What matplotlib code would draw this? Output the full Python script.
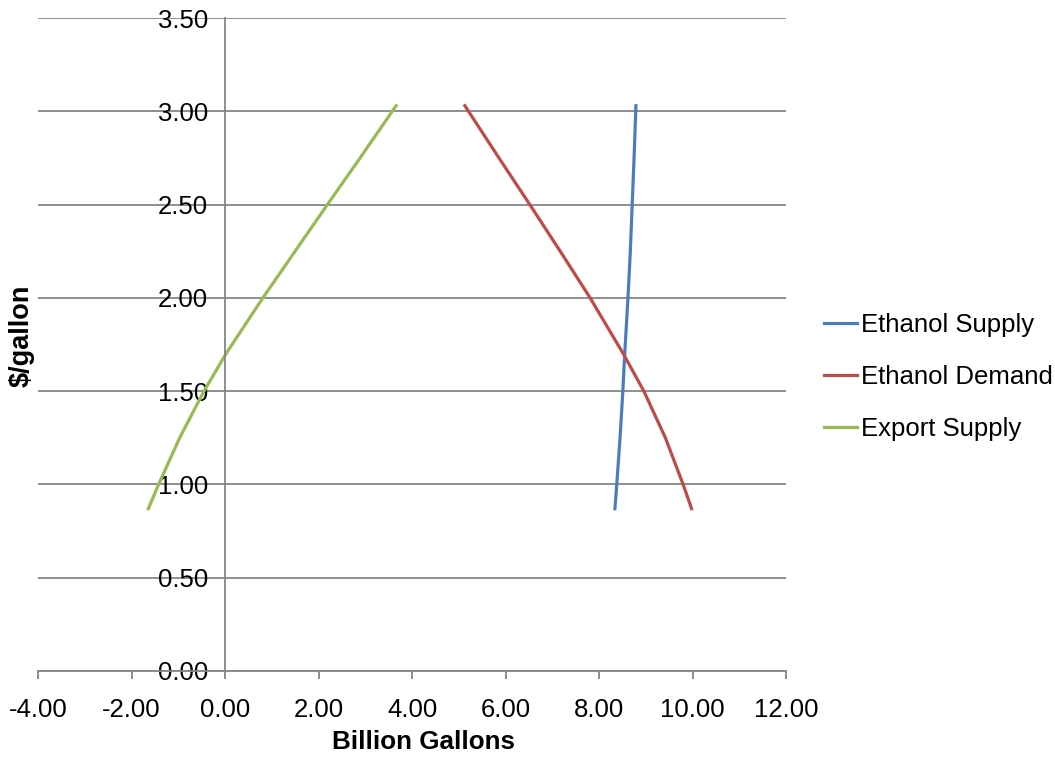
import matplotlib.pyplot as plt

plt.rcParams['font.family'] = ['Liberation Sans', 'DejaVu Sans']

price = [0.87, 1.00, 1.25, 1.50, 1.70, 2.00, 2.25, 2.50, 2.75, 3.03]
ethanol_supply = [8.34, 8.38, 8.45, 8.51, 8.55, 8.62, 8.67, 8.71, 8.75, 8.79]
ethanol_demand = [9.98, 9.80, 9.42, 8.96, 8.52, 7.81, 7.17, 6.52, 5.86, 5.13]
export_supply = [-1.64, -1.42, -0.97, -0.45, 0.02, 0.81, 1.50, 2.19, 2.89, 3.66]

x_ticks = [-4, -2, 0, 2, 4, 6, 8, 10, 12]
y_ticks = [0, 0.5, 1.0, 1.5, 2.0, 2.5, 3.0, 3.5]

grey = '#868686'

fig = plt.figure(figsize=(10.55, 7.63), dpi=100)
ax = fig.add_axes([38 / 1055, 1 - 671 / 763, 748 / 1055, 653 / 763])

ax.plot(ethanol_supply, price, color='#4a7ebb', lw=2.3, label='Ethanol Supply')
ax.plot(ethanol_demand, price, color='#be4b48', lw=2.3, label='Ethanol Demand')
ax.plot(export_supply, price, color='#98b954', lw=2.3, label='Export Supply')

ax.set_xlim(-4, 12)
ax.set_ylim(0, 3.5)
ax.set_xticks(x_ticks)
ax.set_yticks(y_ticks)
ax.set_xticklabels([f'{v:.2f}' for v in x_ticks])
ax.set_yticklabels([f'{v:.2f}' for v in y_ticks])

ax.grid(axis='y', color=grey, lw=1.3)
ax.set_axisbelow(True)

for s in ['top', 'right']:
    ax.spines[s].set_visible(False)
ax.spines['left'].set_position(('data', 0))
ax.spines['left'].set_color(grey)
ax.spines['left'].set_linewidth(1.3)
ax.spines['bottom'].set_color(grey)
ax.spines['bottom'].set_linewidth(1.3)

ax.tick_params(axis='x', direction='out', length=5.8, width=1.3, color=grey,
               pad=13.5, labelsize=18.5)
ax.tick_params(axis='y', length=0, pad=12, labelsize=18.5)

ax.set_xlabel('Billion Gallons', fontsize=18.7, fontweight='bold')
ax.xaxis.set_label_coords(0.516, -0.09)
ax.set_ylabel('$/gallon', fontsize=19.5, fontweight='bold')
ax.yaxis.set_label_coords(-0.004, 0.514)

fig.legend(loc='center left', bbox_to_anchor=(824 / 1055, 1 - 377 / 763),
           frameon=False, fontsize=18.5, handlelength=1.3, handletextpad=0.15,
           labelspacing=1.1, borderpad=0, borderaxespad=0)

fig.savefig('out.png', dpi=100)
